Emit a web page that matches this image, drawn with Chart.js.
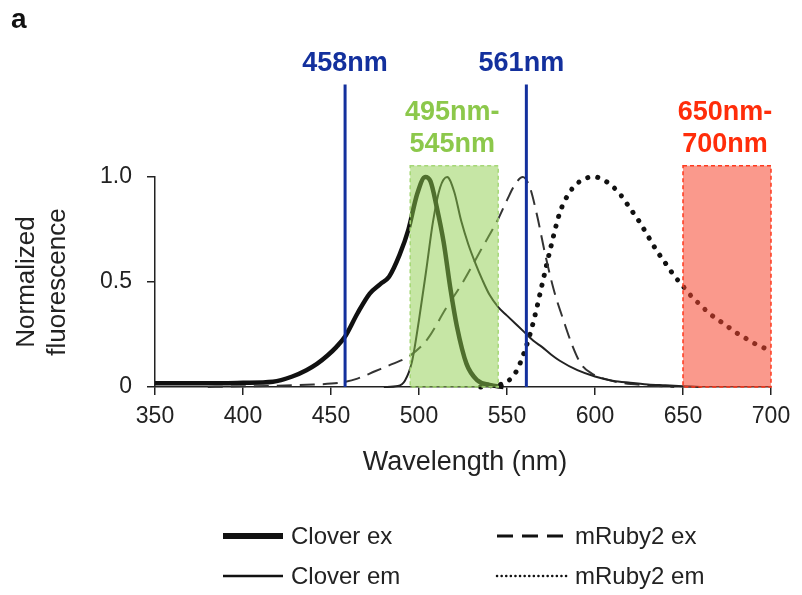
<!DOCTYPE html>
<html>
<head>
<meta charset="utf-8">
<script src="https://cdn.jsdelivr.net/npm/chart.js@4.4.1/dist/chart.umd.min.js"></script>
<style>
    html, body { margin: 0; padding: 0; background: #fff; }
    #wrap { width: 802px; height: 595px; }
</style>
</head>
<body>
<div id="wrap"><canvas id="spectraChart" width="802" height="595"></canvas></div>
<script>
// axis ticks
const xTicks = [350, 400, 450, 500, 550, 600, 650, 700];
const yTicks = [0, 0.5, 1.0];
const yTickLabels = ['0', '0.5', '1.0'];

// spectra (wavelength in nm, normalized value)
const cloverExWl  = [350, 380, 400, 417, 428, 436, 442, 448, 453, 458, 465, 472, 478, 483, 489, 494, 499, 503.5, 506.5, 510, 514, 518, 521.5, 527, 533, 540, 548];
const cloverExVal = [0.018, 0.018, 0.02, 0.025, 0.05, 0.08, 0.11, 0.15, 0.19, 0.24, 0.35, 0.445, 0.49, 0.525, 0.63, 0.75, 0.92, 1.0, 0.98, 0.86, 0.69, 0.46, 0.29, 0.11, 0.033, 0.01, 0];

const cloverEmWl  = [480, 488, 492, 496, 500, 504, 508, 512, 516, 520, 524, 528, 532, 536, 540, 545, 550, 555, 560, 565, 570, 575, 580, 590, 600, 610, 620, 630, 640, 650, 660];
const cloverEmVal = [0, 0.005, 0.03, 0.12, 0.32, 0.55, 0.79, 0.95, 1.0, 0.93, 0.79, 0.68, 0.59, 0.51, 0.44, 0.38, 0.34, 0.30, 0.26, 0.22, 0.19, 0.155, 0.125, 0.08, 0.05, 0.03, 0.02, 0.012, 0.008, 0.004, 0];

const mRubyExWl  = [380, 400, 420, 440, 455, 465, 475, 485, 495, 505, 515, 525, 535, 545, 550, 555, 559, 563, 567, 572, 577, 582, 587, 592, 598, 605, 615, 630, 645];
const mRubyExVal = [0, 0.003, 0.006, 0.012, 0.02, 0.04, 0.075, 0.11, 0.15, 0.23, 0.37, 0.50, 0.65, 0.80, 0.89, 0.97, 1.0, 0.95, 0.82, 0.62, 0.45, 0.32, 0.20, 0.11, 0.065, 0.04, 0.02, 0.008, 0];

const mRubyEmWl  = [535, 540, 545, 550, 555, 560, 565, 570, 575, 580, 585, 590, 595, 600, 605, 610, 615, 620, 625, 630, 635, 640, 645, 650, 655, 660, 665, 670, 675, 680, 685, 690, 695, 700];
const mRubyEmVal = [0, 0.005, 0.01, 0.025, 0.07, 0.17, 0.31, 0.49, 0.67, 0.83, 0.92, 0.97, 0.995, 1.0, 0.985, 0.955, 0.91, 0.85, 0.79, 0.72, 0.65, 0.59, 0.53, 0.48, 0.43, 0.39, 0.35, 0.32, 0.29, 0.26, 0.235, 0.21, 0.19, 0.175];

// laser lines and detection bands
const laserWl = [458, 561];
const laserLabels = ['458nm', '561nm'];
const laserTop = 1.44;
const bandStart = [495, 650];
const bandEnd = [545, 700];
const bandLabels = [['495nm-', '545nm'], ['650nm-', '700nm']];
const bandTop = 1.054;

const FONT = '"Liberation Sans", Arial, Helvetica, sans-serif';
const INK = '#222';

function toPoints(wl, vals) {
    return wl.map((w, i) => ({ x: w, y: vals[i] }));
}

const bandStyles = [
    { fill: 'rgba(141, 205, 75, 0.5)', edge: '#a6d877', text: '#8cc84b' },
    { fill: 'rgba(245, 70, 45, 0.55)', edge: '#ff3a1e', text: '#ff2d0a' }
];
const laserColor = '#13309d';

const overlayPlugin = {
    id: 'overlay',
    afterDatasetsDraw(chart) {
        const ctx = chart.ctx;
        const x = chart.scales.x;
        const y = chart.scales.y;
        const bottom = y.getPixelForValue(0);

        bandStart.forEach((b, i) => {
            const left = x.getPixelForValue(b);
            const right = x.getPixelForValue(bandEnd[i]);
            const top = y.getPixelForValue(bandTop);
            ctx.save();
            ctx.fillStyle = bandStyles[i].fill;
            ctx.fillRect(left, top, right - left, bottom - top);
            ctx.setLineDash([4, 3]);
            ctx.strokeStyle = bandStyles[i].edge;
            ctx.lineWidth = 1.5;
            ctx.strokeRect(left, top, right - left, bottom - top);
            ctx.restore();

            ctx.save();
            ctx.fillStyle = bandStyles[i].text;
            ctx.font = 'bold 27px ' + FONT;
            ctx.textAlign = 'center';
            ctx.textBaseline = 'middle';
            const cx = (left + right) / 2 - 2;
            ctx.fillText(bandLabels[i][0], cx, 113);
            ctx.fillText(bandLabels[i][1], cx, 145);
            ctx.restore();
        });

        laserWl.forEach((w, i) => {
            const px = x.getPixelForValue(w);
            ctx.save();
            ctx.strokeStyle = laserColor;
            ctx.lineWidth = 3;
            ctx.beginPath();
            ctx.moveTo(px, y.getPixelForValue(laserTop));
            ctx.lineTo(px, bottom);
            ctx.stroke();
            ctx.fillStyle = laserColor;
            ctx.font = 'bold 27px ' + FONT;
            ctx.textAlign = 'center';
            ctx.textBaseline = 'middle';
            ctx.fillText(laserLabels[i], px - (i === 1 ? 5 : 0), 64);
            ctx.restore();
        });
    },
    afterDraw(chart) {
        const ctx = chart.ctx;
        const area = chart.chartArea;

        // panel letter
        ctx.save();
        ctx.fillStyle = '#111';
        ctx.font = 'bold 28px ' + FONT;
        ctx.textBaseline = 'alphabetic';
        ctx.fillText('a', 11, 28);
        ctx.restore();

        // axis titles
        ctx.save();
        ctx.fillStyle = INK;
        ctx.font = '27px ' + FONT;
        ctx.textAlign = 'center';
        ctx.textBaseline = 'middle';
        ctx.fillText('Wavelength (nm)', (area.left + area.right) / 2 + 2, 463);
        ctx.font = '26px ' + FONT;
        ctx.translate(41, (area.top + area.bottom) / 2);
        ctx.rotate(-Math.PI / 2);
        ctx.fillText('Normalized', 0, -14);
        ctx.fillText('fluorescence', 0, 17);
        ctx.restore();

        // legend, two columns
        const cols = [{ x: 223, len: 60, tx: 291 }, { x: 497, len: 70, tx: 575 }];
        const rows = [536, 576];
        chart.data.datasets.forEach((ds, i) => {
            const c = cols[Math.floor(i / 2)];
            const ry = rows[i % 2];
            ctx.save();
            ctx.strokeStyle = '#111';
            ctx.lineWidth = ds.legendWidth;
            ctx.lineCap = ds.borderCapStyle || 'butt';
            ctx.setLineDash(ds.legendDash || []);
            ctx.beginPath();
            ctx.moveTo(c.x, ry);
            ctx.lineTo(c.x + c.len, ry);
            ctx.stroke();
            ctx.restore();

            ctx.save();
            ctx.fillStyle = INK;
            ctx.font = '24px ' + FONT;
            ctx.textBaseline = 'middle';
            ctx.fillText(ds.label, c.tx, ry + 1);
            ctx.restore();
        });
    }
};

const ctx = document.getElementById('spectraChart').getContext('2d');
new Chart(ctx, {
    type: 'line',
    data: {
        datasets: [
            {
                label: 'Clover ex',
                data: toPoints(cloverExWl, cloverExVal),
                borderColor: '#111',
                borderWidth: 4.5,
                legendWidth: 6,
                tension: 0.4,
                cubicInterpolationMode: 'monotone'
            },
            {
                label: 'Clover em',
                data: toPoints(cloverEmWl, cloverEmVal),
                borderColor: '#222',
                borderWidth: 2,
                legendWidth: 2.5,
                cubicInterpolationMode: 'monotone'
            },
            {
                label: 'mRuby2 ex',
                data: toPoints(mRubyExWl, mRubyExVal),
                borderColor: '#333',
                borderWidth: 2,
                borderDash: [15, 8],
                legendWidth: 3,
                legendDash: [16, 9],
                cubicInterpolationMode: 'monotone'
            },
            {
                label: 'mRuby2 em',
                data: toPoints(mRubyEmWl, mRubyEmVal),
                borderColor: '#111',
                borderWidth: 5,
                borderDash: [0.1, 10],
                borderCapStyle: 'round',
                legendWidth: 2.5,
                legendDash: [0.1, 4.5],
                cubicInterpolationMode: 'monotone'
            }
        ]
    },
    options: {
        responsive: false,
        animation: false,
        devicePixelRatio: 1,
        layout: { padding: { top: 177, right: 31, left: 0, bottom: 0 } },
        elements: { point: { radius: 0, hoverRadius: 0 } },
        datasets: { line: { clip: false, fill: false } },
        plugins: {
            legend: { display: false },
            tooltip: { enabled: false }
        },
        scales: {
            x: {
                type: 'linear',
                min: 350,
                max: 700,
                afterBuildTicks: scale => { scale.ticks = xTicks.map(v => ({ value: v })); },
                afterFit: scale => { scale.height = 208; },
                grid: { display: true, drawOnChartArea: false, drawTicks: true, tickLength: 8, color: INK, lineWidth: 1.5 },
                border: { display: true, color: INK, width: 1.5 },
                ticks: {
                    autoSkip: false,
                    maxRotation: 0,
                    padding: 8,
                    color: INK,
                    font: { family: FONT, size: 23 }
                }
            },
            y: {
                type: 'linear',
                min: 0,
                max: 1,
                afterBuildTicks: scale => { scale.ticks = yTicks.map(v => ({ value: v })); },
                afterFit: scale => { scale.width = 155; },
                grid: { display: true, drawOnChartArea: false, drawTicks: true, tickLength: 8, color: INK, lineWidth: 1.5 },
                border: { display: true, color: INK, width: 1.5 },
                ticks: {
                    padding: 15,
                    color: INK,
                    font: { family: FONT, size: 23 },
                    callback: (v, i) => yTickLabels[i]
                }
            }
        }
    },
    plugins: [overlayPlugin]
});
</script>
</body>
</html>
